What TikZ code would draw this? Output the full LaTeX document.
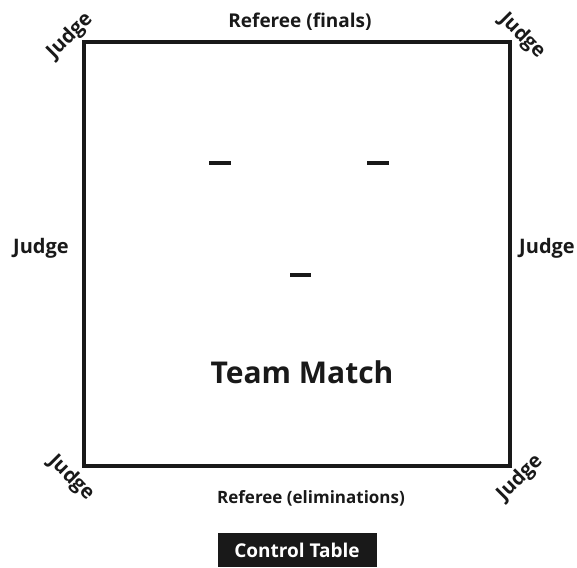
\documentclass[tikz,border=0pt]{standalone}
\usepackage{fontspec}
\setmainfont{Open Sans}
\usepackage{tikz}
\usetikzlibrary{positioning}
\tikzset{
    %Define style for the labels
    lbl/.style={
           font=\bfseries\fontsize{19}{22}\selectfont,
           inner sep=0pt,
           text=black!90},
    judge/.style={
           lbl,
           font=\bfseries\fontsize{20}{24}\selectfont},
    %Define style for the court
    court/.style={
           draw=black!90, line width=3.5pt},
    % Define style for the marks
    mark line/.style={
           draw=black!90, line width=4pt}
}
\begin{document}
\begin{tikzpicture}[x=1pt,y=-1pt]
\useasboundingbox (0,0) rectangle (577,567);
 %court
\draw[court] (84,42) rectangle (510,466);
 %marks
\draw[mark line] (209,163) -- (231,163);
\draw[mark line] (367,163) -- (389,163);
\draw[mark line] (290,275) -- (311,275);
 %judges
\node[judge, rotate=45] (jtl) at (70,36) {Judge};
\node[judge, rotate=-45] (jtr) at (522,36) {Judge};
\node[judge, rotate=-45] (jbl) at (71,478) {Judge};
\node[judge, rotate=45] (jbr) at (520,478) {Judge};
\node[judge] (jl) at (41,248) {Judge};
\node[judge] (jr) at (547,248) {Judge};
 %referees
\node[lbl] (reff) at (300,22) {Referee (finals)};
\node[lbl, font=\bfseries\fontsize{17}{20}\selectfont] (refe) at (311,498) {Referee (eliminations)};
 %centre
\node[lbl, font=\bfseries\fontsize{30}{36}\selectfont] (team) at (302,372) {Team Match};
\node[lbl, fill=black!90, text=white, minimum width=159, minimum height=34] (ctrl) at (297,550) {Control Table};
\end{tikzpicture}
\end{document}
